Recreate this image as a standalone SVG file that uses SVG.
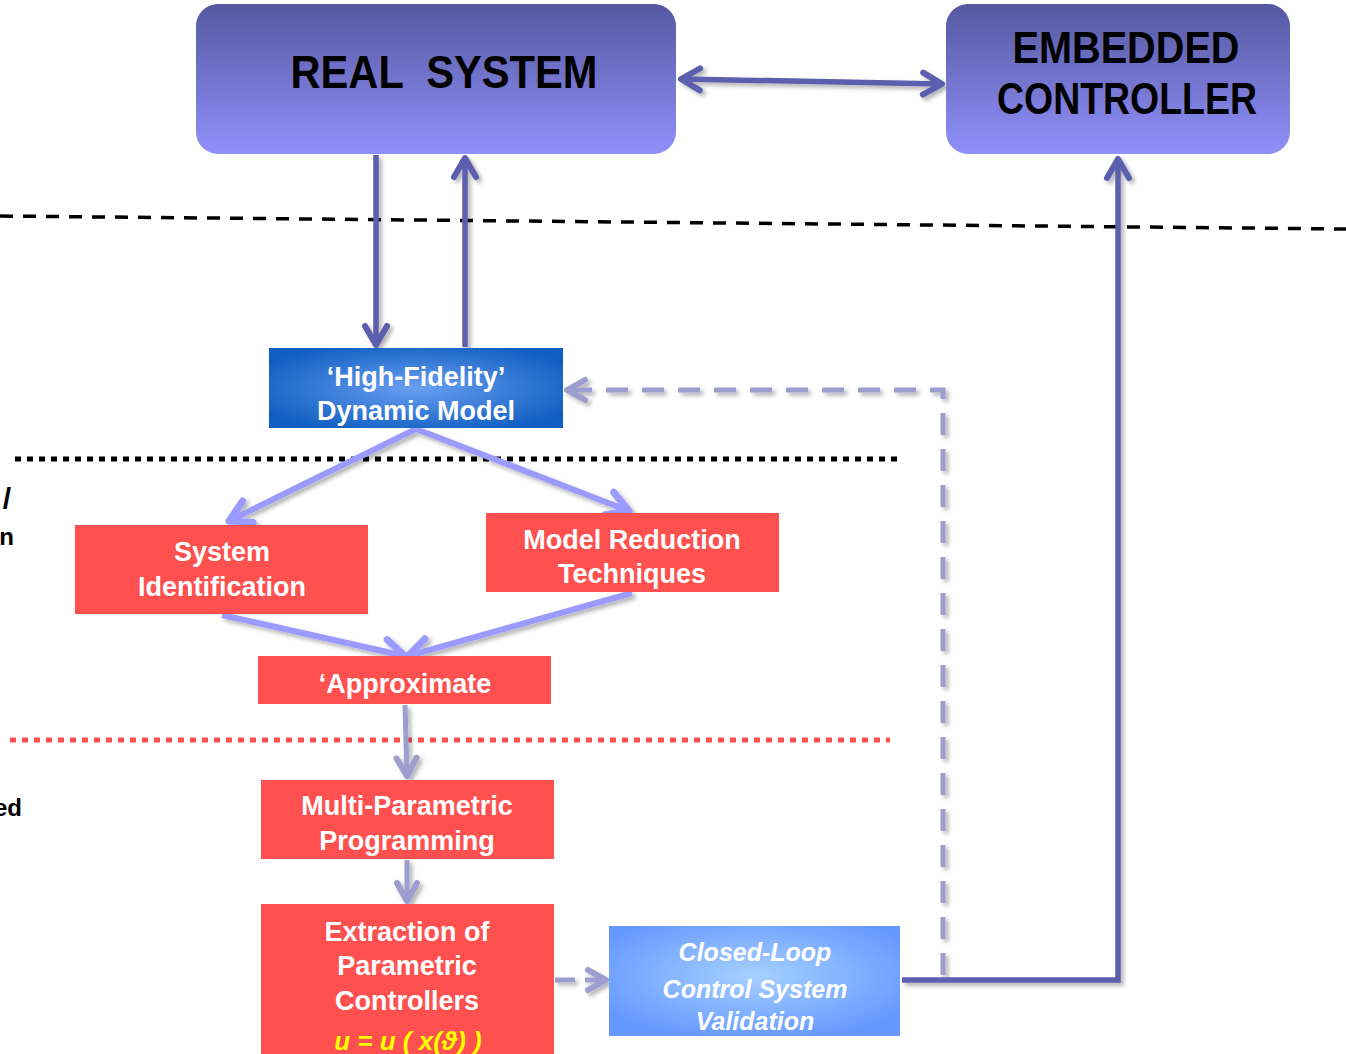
<svg xmlns="http://www.w3.org/2000/svg" width="1346" height="1054" viewBox="0 0 1346 1054">
<style>
.t{font-family:"Liberation Sans",Arial,sans-serif;font-weight:bold;text-anchor:middle}
.blk{fill:#000}
.wht{fill:#fff}
.dk{fill:none;stroke:#5b5eae;stroke-width:5.5}
.lt{fill:none;stroke:#9b9bff;stroke-width:6}
.gy{fill:none;stroke:#9d9dcf;stroke-width:5}
.red{fill:#ff5050}
</style>
<defs>
<linearGradient id="gPurple" x1="0" y1="0" x2="0" y2="1">
<stop offset="0" stop-color="#5558a0"/>
<stop offset="1" stop-color="#9090fa"/>
</linearGradient>
<radialGradient id="gBlue" cx="0.5" cy="0.5" r="0.6">
<stop offset="0" stop-color="#6a9ff2"/>
<stop offset="1" stop-color="#0f5ec0"/>
</radialGradient>
<radialGradient id="gLight" cx="0.5" cy="0.45" r="0.6">
<stop offset="0" stop-color="#a6d0ff"/>
<stop offset="1" stop-color="#6699ff"/>
</radialGradient>
<filter id="sh" x="-20%" y="-20%" width="140%" height="140%">
<feDropShadow dx="3" dy="3" stdDeviation="2" flood-color="#000" flood-opacity="0.3"/>
</filter>
<marker id="mDk" viewBox="-24 -16 30 32" refX="0" refY="0" markerWidth="30" markerHeight="32" markerUnits="userSpaceOnUse" orient="auto-start-reverse">
<path d="M-19,-11 L0,0 L-19,11" fill="none" stroke="#5b5eae" stroke-width="6" stroke-linecap="round" stroke-linejoin="round"/>
</marker>
<marker id="mLt" viewBox="-26 -18 32 36" refX="0" refY="0" markerWidth="32" markerHeight="36" markerUnits="userSpaceOnUse" orient="auto">
<path d="M-21,-12 L0,0 L-21,12" fill="none" stroke="#9b9bff" stroke-width="7" stroke-linecap="round" stroke-linejoin="round"/>
</marker>
<marker id="mGy" viewBox="-24 -16 30 32" refX="0" refY="0" markerWidth="30" markerHeight="32" markerUnits="userSpaceOnUse" orient="auto">
<path d="M-18,-10 L0,0 L-18,10" fill="none" stroke="#9d9dcf" stroke-width="6" stroke-linecap="round" stroke-linejoin="round"/>
</marker>
</defs>

<g id="separators">
<line x1="0" y1="216" x2="1346" y2="229" stroke="#000" stroke-width="3.5" stroke-dasharray="13 10"/>
<line x1="15" y1="459" x2="897" y2="459" stroke="#000" stroke-width="5" stroke-dasharray="6 6"/>
<line x1="10" y1="740" x2="890" y2="740" stroke="#ff5050" stroke-width="5" stroke-dasharray="6 6"/>
</g>

<g id="side-labels" class="t blk" style="text-anchor:end">
<text x="11" y="509" font-size="30">/</text>
<text x="14" y="545" font-size="24">n</text>
<text x="22" y="816" font-size="24">ed</text>
</g>

<g id="connectors" filter="url(#sh)">
<line class="dk" x1="681" y1="79" x2="942" y2="84" marker-start="url(#mDk)" marker-end="url(#mDk)"/>
<line class="dk" x1="376" y1="155" x2="376" y2="345" marker-end="url(#mDk)"/>
<line class="dk" x1="465" y1="347" x2="465" y2="158" marker-end="url(#mDk)"/>
<line class="lt" x1="416" y1="429" x2="229" y2="521" marker-end="url(#mLt)"/>
<line class="lt" x1="416" y1="429" x2="629" y2="511" marker-end="url(#mLt)"/>
<line class="lt" x1="222" y1="615" x2="405" y2="656" marker-end="url(#mLt)"/>
<line class="lt" x1="632" y1="593" x2="408" y2="656" marker-end="url(#mLt)"/>
<line class="gy" x1="405" y1="705" x2="407" y2="776" marker-end="url(#mGy)"/>
<line class="gy" x1="407" y1="860" x2="407" y2="901" marker-end="url(#mGy)"/>
<line class="gy" x1="555" y1="980" x2="606" y2="980" stroke-dasharray="20 10" marker-end="url(#mGy)"/>
<polyline class="dk" points="902,980 1118,980 1118,159" marker-end="url(#mDk)"/>
<polyline class="gy" points="943,975 943,390 567,390" stroke-dasharray="22 14" marker-end="url(#mGy)"/>
</g>

<g id="real-system">
<rect x="196" y="4" width="480" height="150" rx="22" fill="url(#gPurple)"/>
<text class="t blk" x="444" y="88" font-size="46" textLength="307" lengthAdjust="spacingAndGlyphs" xml:space="preserve">REAL  SYSTEM</text>
</g>

<g id="embedded-controller">
<rect x="946" y="4" width="344" height="150" rx="22" fill="url(#gPurple)"/>
<text class="t blk" x="1126" y="63" font-size="44" textLength="227" lengthAdjust="spacingAndGlyphs">EMBEDDED</text>
<text class="t blk" x="1127" y="114" font-size="44" textLength="260" lengthAdjust="spacingAndGlyphs">CONTROLLER</text>
</g>

<g id="high-fidelity">
<rect x="269" y="348" width="294" height="80" fill="url(#gBlue)"/>
<text class="t wht" x="416" y="386" font-size="27">‘High-Fidelity’</text>
<text class="t wht" x="416" y="420" font-size="27">Dynamic Model</text>
</g>

<g id="system-identification">
<rect class="red" x="75" y="525" width="293" height="89"/>
<text class="t wht" x="222" y="561" font-size="27">System</text>
<text class="t wht" x="222" y="596" font-size="27">Identification</text>
</g>

<g id="model-reduction">
<rect class="red" x="486" y="513" width="293" height="79"/>
<text class="t wht" x="632" y="549" font-size="27">Model Reduction</text>
<text class="t wht" x="632" y="583" font-size="27">Techniques</text>
</g>

<g id="approximate">
<rect class="red" x="258" y="656" width="293" height="48"/>
<text class="t wht" x="405" y="693" font-size="27">‘Approximate</text>
</g>

<g id="multi-parametric">
<rect class="red" x="261" y="780" width="293" height="79"/>
<text class="t wht" x="407" y="815" font-size="27">Multi-Parametric</text>
<text class="t wht" x="407" y="850" font-size="27">Programming</text>
</g>

<g id="extraction">
<rect class="red" x="261" y="904" width="293" height="150"/>
<text class="t wht" x="407" y="941" font-size="27">Extraction of</text>
<text class="t wht" x="407" y="975" font-size="27">Parametric</text>
<text class="t wht" x="407" y="1010" font-size="27">Controllers</text>
<text class="t" x="408" y="1050" font-size="26" font-style="italic" fill="#ffff00">u = u ( x(ϑ) )</text>
</g>

<g id="closed-loop">
<rect x="609" y="926" width="291" height="110" fill="url(#gLight)"/>
<text class="t wht" x="755" y="961" font-size="25" font-style="italic">Closed-Loop</text>
<text class="t wht" x="755" y="998" font-size="25" font-style="italic">Control System</text>
<text class="t wht" x="755" y="1030" font-size="25" font-style="italic">Validation</text>
</g>
</svg>
